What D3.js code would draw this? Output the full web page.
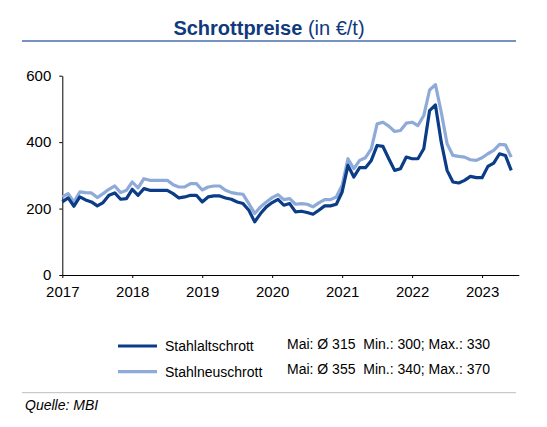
<!DOCTYPE html>
<html>
    <head>
        <title>Schrottpreise</title>
        <script src="https://d3js.org/d3.v7.min.js"></script>
        <style>
         body { margin: 0; background: #fff; }
         svg { display: block; font-family: "Liberation Sans", Arial, sans-serif; }
         .axis text { font-size: 15px; fill: #000; }
         .axis path, .axis line { stroke: #000; stroke-width: 1; }
        </style>
    </head>
    <body>
        <svg width="547" height="427"></svg>
        <script>
         // Monatswerte, Dez 2016 bis Mai 2023 (78 Punkte), €/t
         const stahlalt = [
             220, 232, 207, 235, 226, 220, 208, 218, 240, 247, 228, 230,
             258, 240, 260, 255, 255, 255, 255, 245, 232, 235, 240, 240,
             220, 235, 238, 238, 232, 228, 220, 215, 195, 160, 185, 205,
             218, 228, 210, 215, 190, 192, 188, 183, 195, 208, 208, 213,
             250, 330, 295, 323, 323, 345, 390, 387, 350, 315, 320, 355,
             350, 350, 380, 495, 512, 400, 315, 280, 277, 285, 297, 293,
             293, 327, 337, 365, 360, 315
         ];
         const stahlneu = [
             235, 245, 220, 250, 248, 247, 233, 245, 258, 268, 248, 255,
             280, 262, 290, 285, 285, 285, 285, 272, 265, 265, 275, 275,
             256, 265, 268, 268, 255, 248, 245, 243, 215, 185, 205, 220,
             233, 242, 227, 230, 213, 215, 213, 205, 217, 227, 227, 235,
             270, 350, 320, 345, 353, 380, 455, 460, 448, 432, 435, 457,
             460, 450, 480, 557, 573, 490, 395, 360, 357, 355, 347, 345,
             353, 365, 375, 393, 392, 355
         ];
         const years = [2017, 2018, 2019, 2020, 2021, 2022, 2023];
         const yTicks = [0, 200, 400, 600];

         const seriesNames = ["Stahlaltschrott", "Stahlneuschrott"];
         const seriesStats = [
             "Mai: Ø 315  Min.: 300; Max.: 330",
             "Mai: Ø 355  Min.: 340; Max.: 370"
         ];
         const colors = ["#0b3c87", "#8eaad9"];

         const svg = d3.select("svg");

         // Titel
         const title = svg.append("text")
            .attr("x", 269)
            .attr("y", 35)
            .attr("text-anchor", "middle")
            .attr("fill", "#0f3a7d")
            .style("font-size", "20px");
         title.append("tspan").attr("font-weight", "bold").text("Schrottpreise");
         title.append("tspan").text(" (in €/t)");

         svg.append("line")
            .attr("x1", 22).attr("x2", 516)
            .attr("y1", 41).attr("y2", 41)
            .attr("stroke", "#4a6cae")
            .attr("stroke-width", 1.3);

         // Skalen (x über Punktindex, Jahresticks alle 12 Punkte)
         const x = d3.scaleLinear().domain([0, 78.3]).range([62.3, 518.8]);
         const y = d3.scaleLinear().domain([0, 600]).range([275, 75.7]);

         svg.append("g")
            .attr("class", "axis")
            .attr("transform", "translate(0,275)")
            .call(d3.axisBottom(x)
                    .tickValues(years.map((d, i) => i * 12))
                    .tickFormat((d, i) => years[i])
                    .tickSize(3)
                    .tickSizeOuter(0)
                    .tickPadding(8));

         svg.append("g")
            .attr("class", "axis")
            .attr("transform", "translate(62.3,0)")
            .call(d3.axisLeft(y)
                    .tickValues(yTicks)
                    .tickSize(3)
                    .tickSizeOuter(0)
                    .tickPadding(8));

         const line = d3.line()
                        .x((d, i) => x(i))
                        .y(d => y(d));

         [stahlneu, stahlalt].forEach((s, j) => {
             svg.append("path")
                .datum(s)
                .attr("d", line)
                .attr("fill", "none")
                .attr("stroke", colors[1 - j])
                .attr("stroke-width", 3.2)
                .attr("stroke-linejoin", "round");
         });

         // Legende
         const legend = svg.append("g");
         seriesNames.forEach((name, i) => {
             const ly = 346 + i * 25.7;
             legend.append("line")
                   .attr("x1", 118).attr("x2", 157)
                   .attr("y1", ly).attr("y2", ly)
                   .attr("stroke", colors[i])
                   .attr("stroke-width", 3.2);
             legend.append("text")
                   .attr("x", 165)
                   .attr("y", ly + 4.8)
                   .style("font-size", "14px")
                   .text(name);
             legend.append("text")
                   .attr("x", 287)
                   .attr("y", ly + 2.5)
                   .style("font-size", "14px")
                   .style("white-space", "pre")
                   .text(seriesStats[i]);
         });

         svg.append("line")
            .attr("x1", 22).attr("x2", 516)
            .attr("y1", 392.7).attr("y2", 392.7)
            .attr("stroke", "#bdbdbd")
            .attr("stroke-width", 1);

         svg.append("text")
            .attr("x", 25)
            .attr("y", 410)
            .attr("font-style", "italic")
            .style("font-size", "14px")
            .text("Quelle: MBI");
        </script>
    </body>
</html>
